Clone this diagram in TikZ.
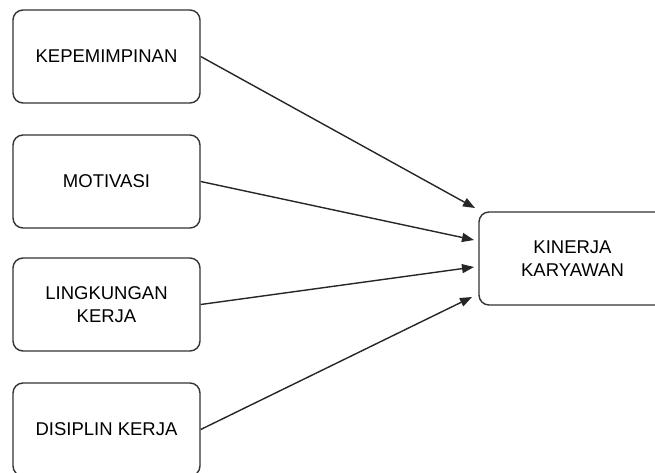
\documentclass[tikz,border=0pt]{standalone}
\usepackage{fontspec}
\setmainfont{Liberation Sans}
\usetikzlibrary{arrows.meta}

\begin{document}
\begin{tikzpicture}[x=1pt,y=-1pt]
	\tikzstyle{factor}=[draw=black!80, line width=1.4pt, rounded corners=10pt, minimum width=187pt, minimum height=93pt, inner sep=0pt, align=center, font=\fontsize{18.5}{22.7}\selectfont]
	\tikzset{edge/.style = {-{Triangle[length=12pt,width=9pt]}, line width=1.4pt, draw=black!85}}

	\useasboundingbox (0,0) rectangle (655,472);
	\clip (0,0) rectangle (655,472);

	% faktor
	\node[factor](kep) at (106.5,56.5)  {KEPEMIMPINAN};
	\node[factor](mot) at (106.5,181.5) {MOTIVASI};
	\node[factor](lin) at (106.5,304.5) {LINGKUNGAN\\KERJA};
	\node[factor](dis) at (106.5,429.5) {DISIPLIN KERJA};

	% kinerja
	\node[factor](kin) at (572.5,258.5) {KINERJA\\KARYAWAN};

	% ujung panah
	\coordinate (tkep) at (475,208);
	\coordinate (tmot) at (474,240);
	\coordinate (tlin) at (474,267);
	\coordinate (tdis) at (472,297);

	\draw[edge](kep.east) to (tkep);
	\draw[edge](mot.east) to (tmot);
	\draw[edge](lin.east) to (tlin);
	\draw[edge](dis.east) to (tdis);
\end{tikzpicture}
\end{document}
